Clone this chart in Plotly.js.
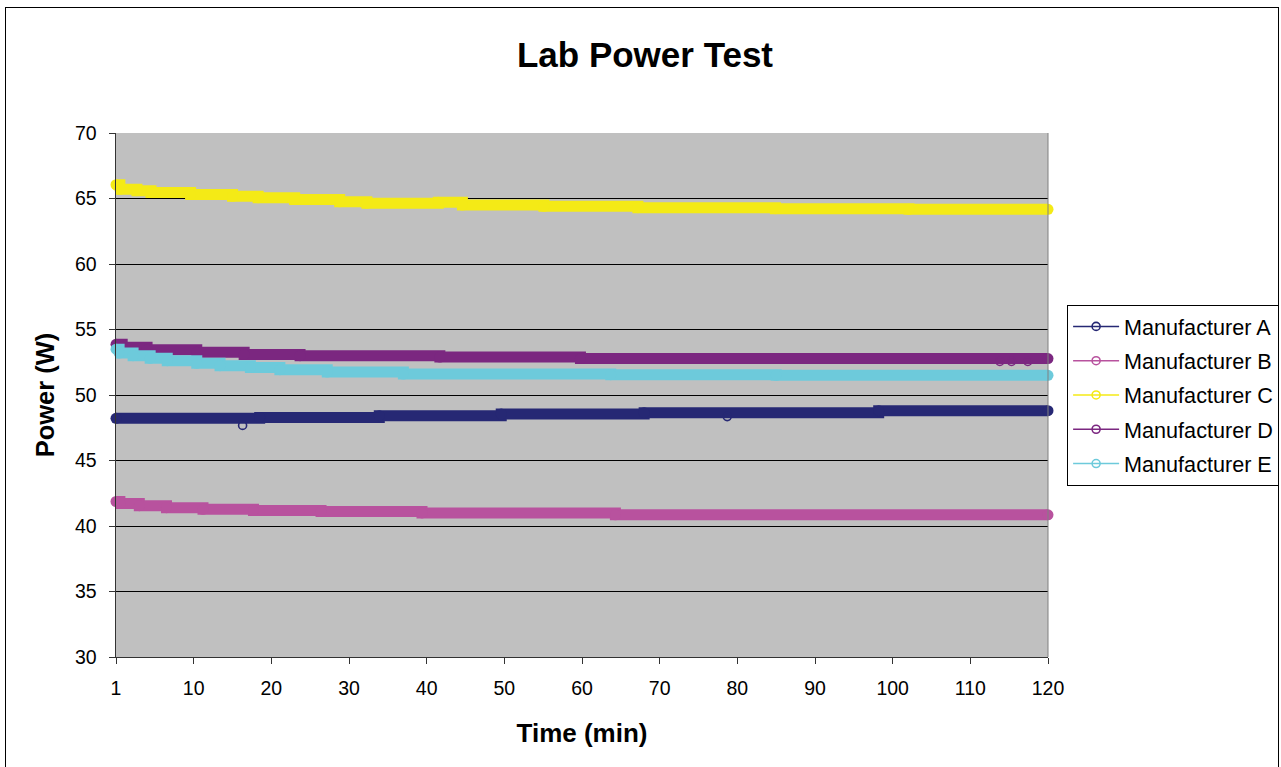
<!DOCTYPE html>
<html>
<head>
<meta charset="utf-8">
<script src="https://cdn.plot.ly/plotly-3.0.1.min.js"></script>
<style>
  html, body { margin:0; padding:0; background:#fff; overflow:hidden; }
  #chart { position:absolute; left:0; top:0; width:1281px; height:767px; }
  #frame { position:absolute; left:5px; top:7px; width:1272px; height:800px; border:1px solid #000; pointer-events:none; }
</style>
</head>
<body>
<div id="chart"></div>
<div id="frame"></div>
<script>
// ---- data (time in minutes since start, power in W) ----
const seriesNames = ['Manufacturer A','Manufacturer B','Manufacturer C','Manufacturer D','Manufacturer E'];
const seriesColors = ['#262874','#B8529E','#F4EA16','#7B2780','#6DCADB'];

const timeA  = [0, 18.5, 33.9, 49.6, 68, 98.2, 120];
const powerA = [48.22, 48.29, 48.42, 48.55, 48.65, 48.8, 48.8];

const timeB  = [0, 0.5, 3, 6.5, 11.2, 17.7, 26.4, 39.4, 64.3, 120];
const powerB = [41.87, 41.72, 41.55, 41.4, 41.27, 41.18, 41.1, 41.0, 40.85, 40.85];

const timeC  = [0, 0.5, 2.7, 4.5, 9.6, 15, 18.3, 23, 28.8, 32.3, 41.5, 44.6, 55.1, 67.2, 84.9, 102.1, 120];
const powerC = [66.05, 65.7, 65.6, 65.45, 65.3, 65.17, 65.05, 64.93, 64.75, 64.64, 64.72, 64.5, 64.4, 64.3, 64.22, 64.17, 64.17];

const timeD  = [0, 0.8, 4, 10.4, 16.5, 23.7, 41.7, 59.8, 120];
const powerD = [53.87, 53.65, 53.45, 53.26, 53.1, 53.0, 52.9, 52.78, 52.78];

const timeE  = [0, 0.4, 2.2, 4.4, 6.6, 10.4, 13.4, 17.3, 21.1, 27.2, 37, 63.7, 85, 120];
const powerE = [53.5, 53.2, 53.0, 52.8, 52.62, 52.42, 52.24, 52.1, 51.93, 51.75, 51.6, 51.55, 51.5, 51.5];

// isolated readings that stand out from the band
const outTimeA  = [16.3, 78.7];
const outPowerA = [47.68, 48.35];
const outTimeD  = [113.8, 115.3, 117.4];
const outPowerD = [52.56, 52.56, 52.56];

const xTickVals = [0, 10, 20, 30, 40, 50, 60, 70, 80, 90, 100, 110, 120];
const xTickText = ['1','10','20','30','40','50','60','70','80','90','100','110','120'];

// ---- build traces ----
const bands = [[timeA,powerA],[timeB,powerB],[timeC,powerC],[timeD,powerD],[timeE,powerE]];
const outliers = [[outTimeA,outPowerA],[[],[]],[[],[]],[outTimeD,outPowerD],[[],[]]];

function separated(arr){ // put gaps between isolated points so no line joins them
  if(!arr.length) return [null];
  const o=[]; arr.forEach((v,i)=>{ if(i) o.push(null); o.push(v); }); return o;
}

const traces = [];
bands.forEach((b,i)=>{
  traces.push({
    type:'scatter', mode:'lines+markers', x:b[0], y:b[1],
    line:{color:seriesColors[i], width:11, shape:'hv'},
    marker:{symbol:'circle', size:11, color:seriesColors[i]},
    cliponaxis:false,
    showlegend:false, legendgroup:'g'+i, hoverinfo:'skip'
  });
});
bands.forEach((b,i)=>{
  traces.push({
    type:'scatter', mode:'lines+markers', name:seriesNames[i],
    x:separated(outliers[i][0]), y:separated(outliers[i][1]),
    connectgaps:false, cliponaxis:false,
    line:{color:seriesColors[i], width:1.5},
    marker:{symbol:'circle-open', size:8, color:seriesColors[i], line:{width:1.6, color:seriesColors[i]}},
    legendgroup:'g'+i
  });
});

const layout = {
  width:1281, height:767,
  margin:{l:116, r:233, t:133, b:110, pad:0, autoexpand:false},
  paper_bgcolor:'#ffffff', plot_bgcolor:'#C0C0C0',
  font:{family:'"Liberation Sans", Arial, sans-serif', color:'#000', size:19},
  title:{text:'<b>Lab Power Test</b>', font:{size:35, color:'#000'},
         xref:'container', x:0.5035, xanchor:'center', yref:'container', y:0.928, yanchor:'middle'},
  xaxis:{range:[0,120], tickmode:'array', tickvals:xTickVals, ticktext:xTickText,
         showgrid:false, zeroline:false, showline:true, linecolor:'#333', linewidth:1,
         ticks:'outside', ticklen:6, tickcolor:'#333', ticklabelstandoff:8,
         tickfont:{size:19.5}, automargin:false,
         title:{text:'<b>Time (min)</b>', font:{size:26}, standoff:25}},
  yaxis:{range:[30,70], tick0:30, dtick:5, showgrid:true, gridcolor:'#000', gridwidth:1,
         zeroline:false, showline:true, linecolor:'#333', linewidth:1.5,
         ticks:'outside', ticklen:6, tickcolor:'#333', ticklabelstandoff:8,
         tickfont:{size:19.5}, automargin:false,
         title:{text:'<b>Power (W)</b>', font:{size:25.5}, standoff:13}},
  shapes:[{type:'line', xref:'paper', yref:'paper', x0:1, x1:1, y0:0, y1:1, line:{color:'#808080', width:1}}],
  legend:{x:1.0205, xanchor:'left', y:0.672, yanchor:'top', bgcolor:'#fff',
          bordercolor:'#000', borderwidth:1, font:{size:21.6},
          itemwidth:46, traceorder:'grouped', tracegroupgap:3.2},
  showlegend:true
};

Plotly.newPlot('chart', traces, layout, {staticPlot:true, displayModeBar:false});
</script>
</body>
</html>
